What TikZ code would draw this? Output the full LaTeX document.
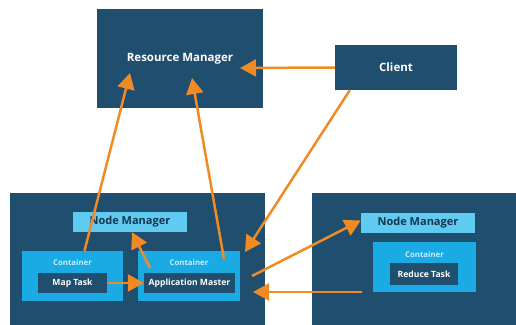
\documentclass[tikz,border=0pt]{standalone}
\usepackage{fontspec}
\setmainfont{Open Sans}
\usepackage{xcolor}
\definecolor{navy}{HTML}{1F4E6F}
\definecolor{sky}{HTML}{1AABE4}
\definecolor{pale}{HTML}{5FCBF1}
\definecolor{ink}{HTML}{15364D}
\definecolor{lbl}{HTML}{C9EDFB}
\definecolor{org}{HTML}{F08A24}
\usetikzlibrary{arrows.meta,calc}
\tikzset{
  >={Triangle[length=16pt,width=17pt]},
  dbox/.style={fill=navy,draw=none,inner sep=0pt,text=white,font=\fontsize{11.5}{13}\selectfont\bfseries},
  nmbox/.style={fill=pale,draw=none,inner sep=0pt,minimum width=114pt,minimum height=20pt,text=ink,font=\fontsize{11}{12}\selectfont\bfseries},
  cbox/.style={fill=sky,draw=none,inner sep=0pt,minimum height=50pt},
  tbox/.style={fill=navy,draw=none,inner sep=0pt,minimum height=20pt,text=white,font=\fontsize{8.6}{10}\selectfont\bfseries},
  clab/.style={text=lbl,font=\fontsize{7.8}{9}\selectfont\bfseries,inner sep=0pt},
  arr/.style={->,draw=org,fill=org,line width=2.5pt},
}
\begin{document}
\begin{tikzpicture}[x=1pt,y=-1pt]
\useasboundingbox (0,0) rectangle (516,324);
% master side
\node[dbox,minimum width=166pt,minimum height=99pt] (rm) at (180,58.5) {Resource Manager};
\node[dbox,minimum width=122pt,minimum height=45pt] (cl) at (396,67.5) {Client};
% worker nodes
\node[dbox,minimum width=255pt,minimum height=135pt] (wl) at (137.5,260.5) {};
\node[dbox,minimum width=210pt,minimum height=135pt] (wr) at (417,260.5) {};
\node[nmbox] (nml) at (130,222) {Node Manager};
\node[nmbox] (nmr) at (418,222.5) {Node Manager};
\node[cbox,minimum width=101pt] (cml) at (72.5,276) {};
\node[cbox,minimum width=102pt] (cam) at (189,276) {};
\node[cbox,minimum width=103pt] (crd) at (424.5,267) {};
\node[clab] at (72.5,263) {Container};
\node[clab] at (189,263) {Container};
\node[clab] at (424.5,255) {Container};
\node[tbox,minimum width=69pt] (map) at (72.5,283) {Map Task};
\node[tbox,minimum width=91pt] (am) at (189.5,283) {Application Master};
\node[tbox,minimum width=68pt,minimum height=22pt] (red) at (424,274) {Reduce Task};
% requests
\draw[arr] ([xshift=12pt]cml.north) -- ($(rm.center)+(-50,14.5)$);
\draw[arr] ($(cam.center)+(35,-17)$) -- ($(rm.center)+(12,19.5)$);
\draw[arr] (cl.west) -- ($(rm.center)+(60,9.5)$);
\draw[arr] ([xshift=15pt]cl.south west) -- ($(cam.center)+(56,-24)$);
\draw[arr] ($(cam.center)+(63,0)$) -- ([yshift=2pt]nmr.west);
\draw[arr] ($(crd.center)+(-62.5,25)$) -- ($(cam.center)+(64,16)$);
\draw[arr] (map.east) -- (am.west);
\draw[arr] ($(am.center)+(-39.5,-15)$) -- ([xshift=2pt]nml.south);
\end{tikzpicture}
\end{document}
